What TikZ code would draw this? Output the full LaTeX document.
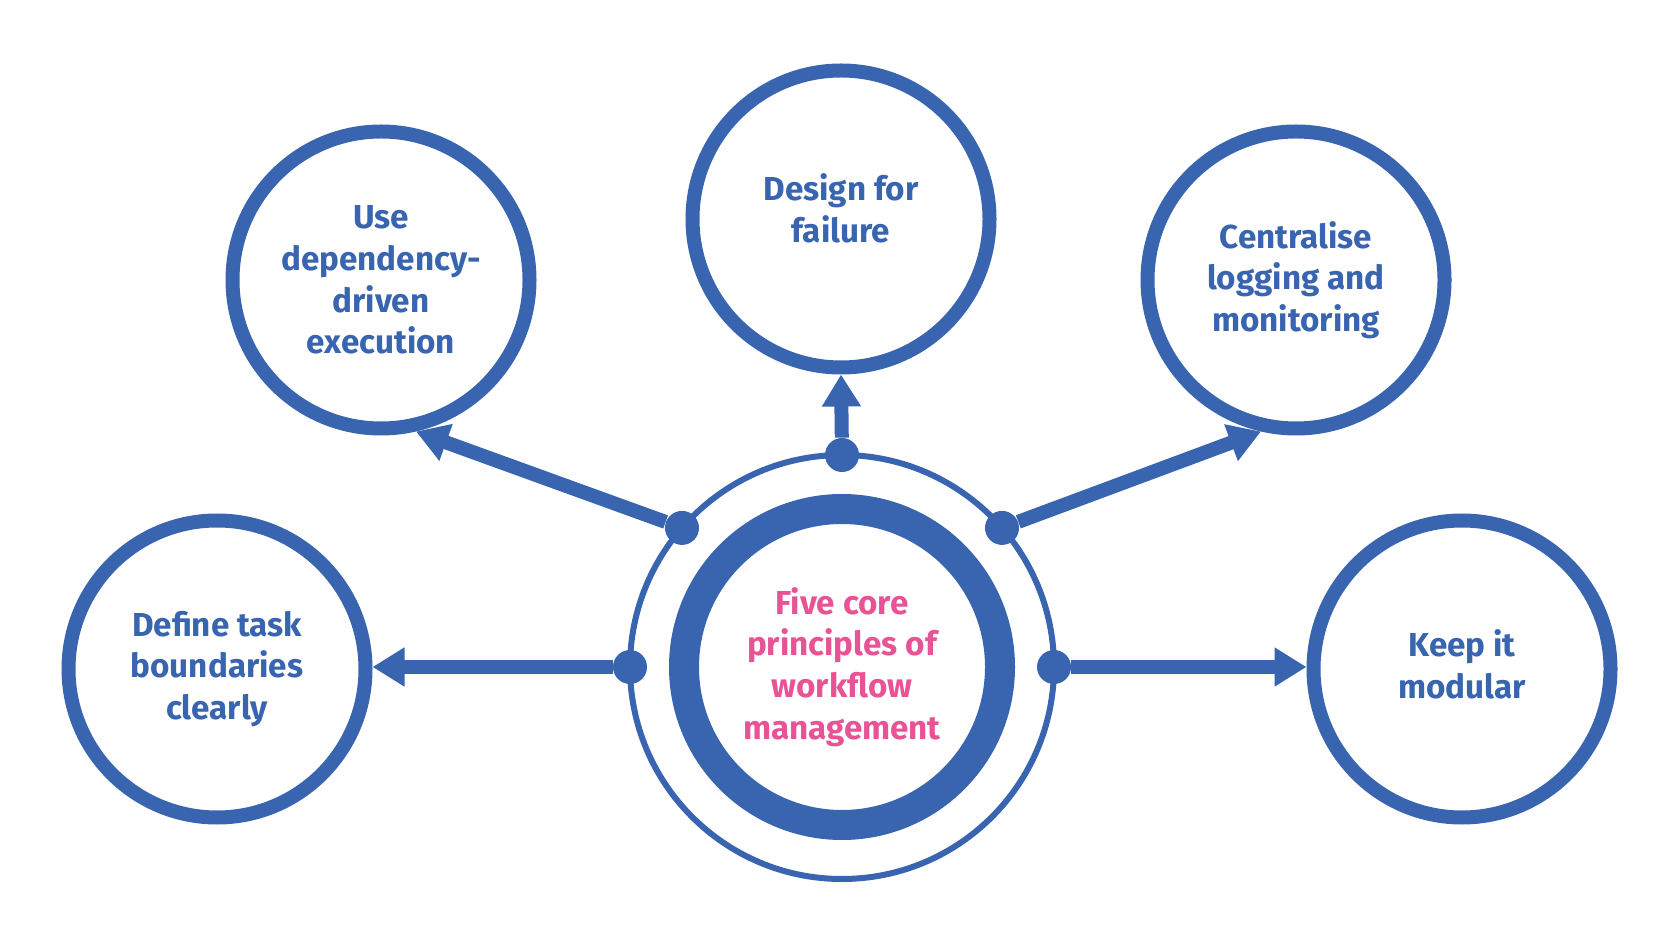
\documentclass[tikz,border=0pt]{standalone}
\usepackage{fontspec}
\setmainfont{Fira Sans}
\usetikzlibrary{arrows.meta}
\definecolor{ringBlue}{RGB}{56,100,176}
\definecolor{corePink}{RGB}{232,83,150}
\tikzset{
  principle/.style={circle,draw=ringBlue,line width=7pt,fill=white,
    minimum size=148.5pt,inner sep=0pt,text=ringBlue,align=center,
    font=\bfseries\fontsize{16.6}{20.8}\selectfont},
  core/.style={principle,line width=15pt,minimum size=158pt,
    text=corePink,fill=none},
  outerring/.style={circle,draw=ringBlue,line width=3pt,
    minimum size=212pt,inner sep=0pt,outer sep=0pt},
  hub/.style={circle,fill=ringBlue,minimum size=17pt,inner sep=0pt},
  spoke/.style={-{Triangle[length=16pt,width=18.5pt]},line width=7pt,
    color=ringBlue},
}

\begin{document}
\begin{tikzpicture}[x=0.5pt,y=-0.5pt]
\useasboundingbox (0,0) rectangle (1680,945);

% centre: rings and title
\node[outerring] (ring) at (842,667) {};
\node[core] (core) at (842,667)
  {Five core\\principles of\\workflow\\management};

% the five principles
\node[principle,text depth=11pt] (design) at (841,219) {Design for\\failure};
\node[principle] (usedep)  at (381,280) {Use\\dependency-\\driven\\execution};
\node[principle] (central) at (1296,280) {Centralise\\logging and\\monitoring};
\node[principle] (define)  at (217,669) {Define task\\boundaries\\clearly};
\node[principle,text depth=5pt] (keep) at (1462,669) {Keep it\\modular};

% hubs on the outer ring
\foreach \a/\n in {90/top,139/ul,41/ur,180/lf,0/rt}
  \node[hub] (dot\n) at (ring.\a) {};

% spokes
\draw[spoke] (dottop) -- (design.south);
\draw[spoke] (dotul) -- (usedep.-77);
\draw[spoke] (dotur) -- (central.-103);
\draw[spoke] (dotlf) -- (dotlf -| define.east);
\draw[spoke] (dotrt) -- (dotrt -| keep.west);

\end{tikzpicture}
\end{document}
